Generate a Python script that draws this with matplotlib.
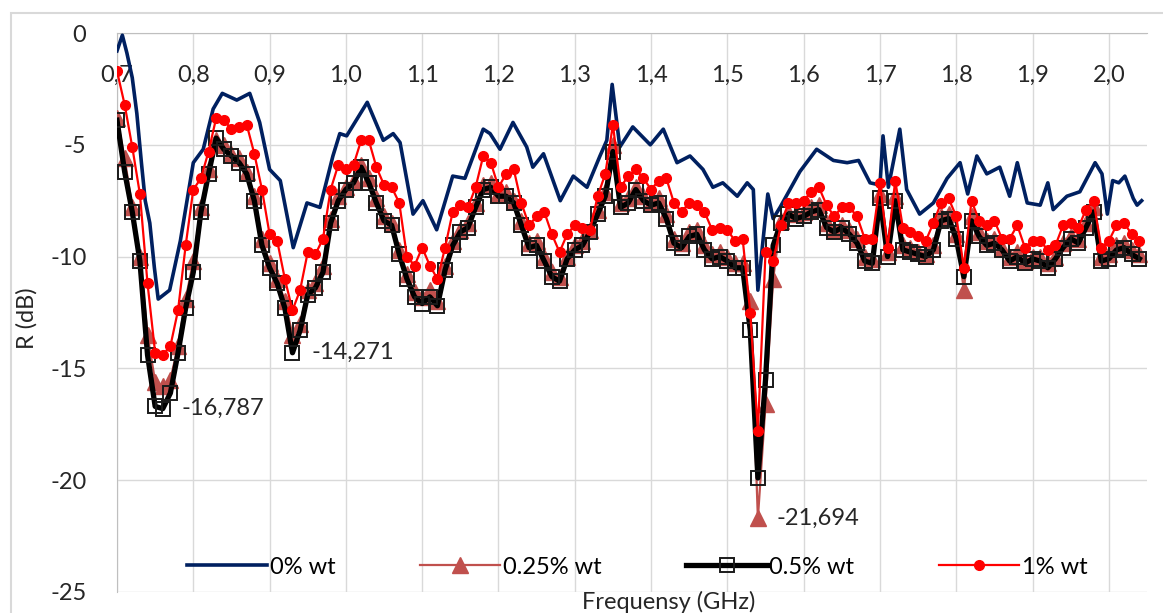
import numpy as np
import matplotlib
matplotlib.use("Agg")
import matplotlib.pyplot as plt
from matplotlib.patches import Rectangle

plt.rcParams['font.family'] = ['Lato', 'DejaVu Sans']
plt.rcParams['axes.unicode_minus'] = False

# frequency grid of the measured series (GHz)
freq = np.round(np.arange(0.70, 2.045, 0.01), 2)

# 1% wt
r_1 = [-1.7, -3.2, -5.1, -7.2, -11.2, -14.3, -14.4, -14.0, -12.4, -9.5,
       -7.0, -6.5, -5.3, -3.8, -3.9, -4.3, -4.2, -4.1, -5.4, -7.0,
       -9.0, -9.3, -11.0, -12.4, -11.5, -9.8, -9.9, -9.2, -7.0, -5.9,
       -6.1, -5.9, -4.8, -4.8, -6.0, -6.8, -6.9, -7.6, -10.0, -10.4,
       -9.6, -10.4, -11.0, -9.6, -8.0, -7.7, -7.8, -6.9, -5.5, -5.8,
       -6.9, -6.3, -6.1, -7.6, -8.6, -8.2, -8.0, -9.0, -9.8, -9.0,
       -8.6, -8.7, -8.8, -7.3, -6.3, -4.1, -6.9, -6.4, -6.1, -6.5,
       -7.0, -6.6, -6.5, -7.6, -8.0, -7.6, -7.7, -8.0, -8.8, -8.7,
       -8.8, -9.3, -9.2, -12.5, -17.8, -9.8, -10.2, -8.6, -7.6, -7.6,
       -7.5, -7.1, -6.9, -7.7, -8.2, -7.8, -7.8, -8.2, -9.2, -9.2,
       -6.7, -9.6, -6.6, -8.7, -8.9, -9.1, -9.3, -8.5, -7.6, -7.4,
       -8.2, -10.5, -7.5, -8.4, -8.6, -8.4, -9.2, -9.2, -8.6, -9.6,
       -9.3, -9.3, -9.7, -9.5, -8.6, -8.5, -8.7, -7.9, -7.5, -9.6,
       -9.3, -8.6, -8.5, -9.0, -9.3]

# 0.5% wt
r_05 = [-3.9, -6.2, -8.0, -10.2, -14.4, -16.7, -16.8, -16.1, -14.3, -12.3,
        -10.7, -8.0, -6.3, -4.7, -5.2, -5.5, -5.8, -6.3, -7.5, -9.5,
        -10.5, -11.2, -12.3, -14.3, -13.3, -11.7, -11.4, -10.7, -8.5, -7.5,
        -7.0, -6.7, -6.0, -6.7, -7.6, -8.4, -8.6, -9.9, -11.0, -11.8,
        -12.1, -11.8, -12.2, -10.6, -9.5, -8.9, -8.7, -7.8, -7.0, -6.9,
        -7.3, -7.3, -7.6, -8.6, -9.6, -9.5, -10.2, -10.9, -11.1, -10.1,
        -9.7, -9.5, -8.9, -8.1, -7.3, -5.3, -7.8, -7.6, -7.0, -7.5,
        -7.7, -7.6, -8.3, -9.4, -9.6, -9.1, -9.0, -9.7, -10.1, -10.0,
        -10.2, -10.5, -10.5, -13.3, -19.9, -15.5, -9.5, -8.5, -8.1, -8.3,
        -8.2, -8.0, -7.9, -8.7, -8.9, -8.7, -9.0, -9.4, -10.2, -10.3,
        -7.4, -10.0, -7.5, -9.7, -9.8, -9.9, -10.0, -9.7, -8.4, -8.3,
        -9.2, -10.9, -8.4, -9.1, -9.5, -9.4, -9.7, -10.2, -10.0, -10.3,
        -10.1, -10.2, -10.5, -10.1, -9.6, -9.2, -9.4, -8.7, -8.0, -10.2,
        -10.1, -9.7, -9.6, -9.9, -10.1]

# 0.25% wt
r_025 = [-3.8, -5.6, -7.8, -10.0, -13.5, -15.6, -15.8, -15.5, -14.0, -11.9,
         -10.2, -7.8, -6.1, -4.8, -5.0, -5.4, -5.6, -6.2, -7.3, -9.2,
         -10.3, -11.0, -12.0, -13.5, -13.0, -11.5, -11.2, -10.4, -8.3, -7.3,
         -6.9, -6.6, -5.9, -6.5, -7.4, -8.2, -8.5, -9.7, -10.8, -11.6,
         -11.8, -11.5, -12.0, -10.4, -9.3, -8.8, -8.5, -7.6, -6.8, -6.7,
         -7.2, -7.1, -7.5, -8.4, -9.4, -9.3, -10.0, -10.7, -10.9, -10.0,
         -9.5, -9.3, -8.8, -7.9, -7.1, -5.0, -7.6, -7.4, -6.9, -7.3,
         -7.6, -7.4, -8.1, -9.2, -9.4, -8.9, -8.8, -9.5, -9.9, -9.8,
         -10.0, -10.3, -10.3, -12.0, -21.7, -16.6, -11.0, -8.4, -8.0, -8.1,
         -8.0, -7.8, -7.7, -8.5, -8.8, -8.6, -8.8, -9.2, -10.0, -10.1,
         -7.2, -9.8, -7.3, -9.5, -9.6, -9.8, -9.9, -9.5, -8.2, -8.1,
         -9.0, -11.5, -8.2, -8.9, -9.3, -9.2, -9.6, -10.0, -9.8, -10.2,
         -10.0, -10.0, -10.3, -10.0, -9.4, -9.1, -9.2, -8.5, -7.8, -10.0,
         -9.9, -9.5, -9.4, -9.7, -9.9]

# 0% wt (read at its own turning points)
f_0 = [0.700, 0.707, 0.713, 0.720, 0.726, 0.732, 0.737, 0.743, 0.749, 0.754,
       0.769, 0.783, 0.800, 0.813, 0.826, 0.838, 0.857, 0.874, 0.887, 0.900,
       0.914, 0.931, 0.949, 0.966, 0.983, 0.992, 1.001, 1.028, 1.049, 1.062,
       1.071, 1.088, 1.101, 1.119, 1.140, 1.156, 1.180, 1.189, 1.202, 1.219,
       1.237, 1.245, 1.259, 1.281, 1.298, 1.316, 1.333, 1.342, 1.349, 1.359,
       1.376, 1.399, 1.416, 1.434, 1.451, 1.468, 1.481, 1.494, 1.513, 1.526,
       1.534, 1.540, 1.553, 1.560, 1.569, 1.595, 1.617, 1.639, 1.657, 1.672,
       1.687, 1.700, 1.704, 1.711, 1.726, 1.735, 1.752, 1.770, 1.788, 1.805,
       1.815, 1.827, 1.840, 1.857, 1.870, 1.880, 1.893, 1.910, 1.920, 1.927,
       1.945, 1.962, 1.982, 1.991, 1.998, 2.005, 2.013, 2.021, 2.032, 2.037,
       2.043]
r_0 = [-0.8, -0.1, -0.9, -2.0, -3.6, -5.8, -7.5, -8.5, -10.5, -11.9,
       -11.5, -9.3, -5.8, -5.2, -3.4, -2.7, -3.0, -2.7, -4.0, -6.1,
       -6.6, -9.6, -7.6, -7.8, -5.5, -4.5, -4.6, -3.1, -4.8, -4.5,
       -4.9, -8.1, -7.5, -8.8, -6.4, -6.5, -4.3, -4.5, -5.2, -4.0,
       -5.1, -6.0, -5.4, -7.5, -6.4, -6.9, -5.5, -4.8, -2.3, -5.1,
       -4.2, -5.0, -4.3, -5.8, -5.5, -6.1, -6.9, -6.7, -7.3, -6.7,
       -7.0, -11.5, -7.2, -8.3, -7.8, -6.2, -5.2, -5.7, -5.8, -5.7,
       -6.7, -6.8, -4.6, -6.9, -4.3, -7.0, -8.1, -7.6, -6.5, -5.8,
       -7.2, -5.5, -6.3, -6.0, -7.3, -5.8, -7.6, -7.7, -6.7, -7.9,
       -7.3, -7.1, -5.8, -6.3, -8.1, -6.6, -6.7, -6.4, -7.4, -7.7,
       -7.5]

tick_vals = [0.7, 0.8, 0.9, 1.0, 1.1, 1.2, 1.3, 1.4, 1.5, 1.6, 1.7, 1.8, 1.9, 2.0]
tick_labels = ["0,7", "0,8", "0,9", "1,0", "1,1", "1,2", "1,3", "1,4", "1,5",
               "1,6", "1,7", "1,8", "1,9", "2,0"]

# labelled minima: (series, frequency, text)
minima = [("0.5", 0.76, "-16,787"), ("0.5", 0.93, "-14,271"), ("0.25", 1.54, "-21,694")]

fig = plt.figure(figsize=(11.63, 6.13), dpi=100)
ax = fig.add_axes([117 / 1163, 1 - 592 / 613, (1147 - 117) / 1163, (592 - 33) / 613])

ax.plot(f_0, r_0, color="#002060", lw=2.6, label="0% wt", zorder=3)
ax.plot(freq, r_025, color="#C0504D", lw=1.6, marker="^", ms=11,
        mec="#C0504D", mfc="#C0504D", label="0.25% wt", zorder=4)
ax.plot(freq, r_05, color="black", lw=3.8, marker="s", ms=10,
        mfc="none", mec="#1a1a1a", mew=1.4, label="0.5% wt", zorder=5)
ax.plot(freq, r_1, color="#FF0000", lw=1.6, marker="o", ms=7,
        mec="#FF0000", mfc="#FF0000", label="1% wt", zorder=6)

series = {"0.25": r_025, "0.5": r_05}
for name, f, txt in minima:
    i = int(np.argmin(np.abs(freq - f)))
    ax.annotate(txt, (freq[i], series[name][i]), xytext=(19, 0),
                textcoords="offset pixels", va="center", ha="left",
                fontsize=17, color="#262626", zorder=7)

ax.set_xlim(0.7, 2.05)
ax.set_ylim(-25, 0)
ax.set_xticks(tick_vals)
ax.set_xticklabels(tick_labels)
ax.set_yticks([0, -5, -10, -15, -20, -25])
ax.spines["bottom"].set_position(("data", 0))
ax.spines["bottom"].set_color("#BFBFBF")
ax.spines["left"].set_color("#BFBFBF")
ax.spines["top"].set_visible(False)
ax.spines["right"].set_visible(False)
ax.tick_params(axis="x", length=0, pad=23, labelsize=17, labelcolor="#262626")
ax.tick_params(axis="y", length=0, pad=22, labelsize=17, labelcolor="#262626")
ax.grid(True, color="#D9D9D9", lw=1)
ax.set_axisbelow(True)

ax.set_ylabel("R (dB)", fontsize=17, color="#262626")
ax.yaxis.set_label_coords(-(117 - 38) / 1030, 0.49)
fig.text(669 / 1163, 1 - 602 / 613, "Frequensy (GHz)", ha="center", va="center",
         fontsize=17, color="#262626")

ax.legend(loc="center", bbox_to_anchor=(0.505, (567 - 592) / -559), ncol=4,
          frameon=False, fontsize=17, handlelength=3.4, columnspacing=3.6,
          handletextpad=0.1, borderaxespad=0)

fig.add_artist(Rectangle((11 / 1163, -0.1), 1.2, 1 - 13 / 613 + 0.1,
                         transform=fig.transFigure, fill=False,
                         ec="#D9D9D9", lw=1.5))

fig.savefig("out.png", dpi=100)
